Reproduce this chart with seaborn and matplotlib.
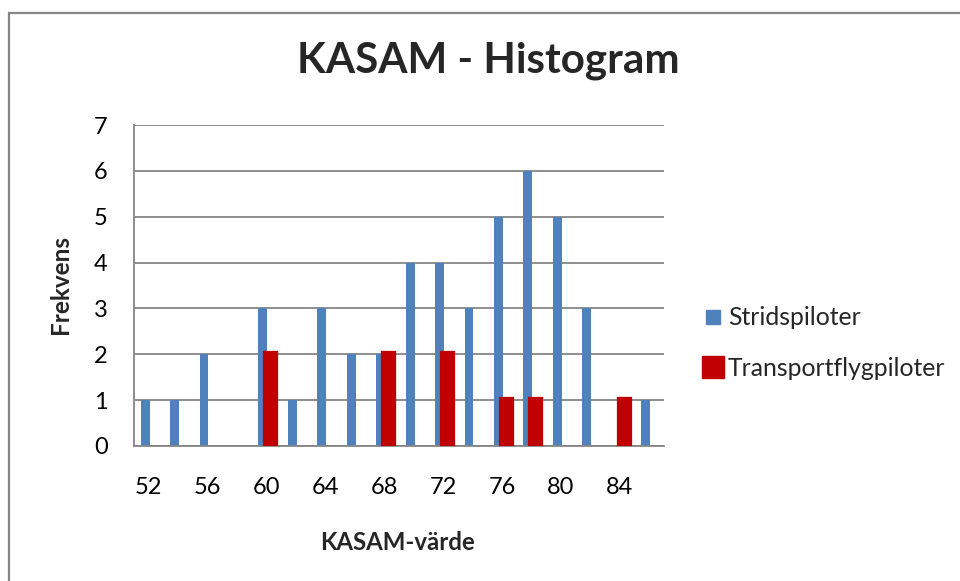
import numpy as np
import pandas as pd
import matplotlib
matplotlib.use("Agg")
import matplotlib.pyplot as plt
from matplotlib.lines import Line2D
from matplotlib.patches import Rectangle
import seaborn as sns

# ---- data ----
kasam = [52, 54, 56, 58, 60, 62, 64, 66, 68, 70, 72, 74, 76, 78, 80, 82, 84, 86]
strid = [1, 1, 2, 0, 3, 1, 3, 2, 2, 4, 4, 3, 5, 6, 5, 3, 0, 1]
transport_kasam = [60, 68, 72, 76, 78, 84]
transport = [2, 2, 2, 1, 1, 1]
series_names = ["Stridspiloter", "Transportflygpiloter"]
title = "KASAM - Histogram"
xlabel = "KASAM-värde"
ylabel = "Frekvens"

BLUE = "#4F81BD"
RED = "#C00000"
GRAY = "#868686"

sns.set_style("white")
plt.rcParams["font.family"] = ["Lato", "DejaVu Sans"]

fig = plt.figure(figsize=(9.6, 5.81), dpi=100)
W, H = 960, 581
L, R, T, B = 134, 664, 125, 446
ax = fig.add_axes([L / W, 1 - B / H, (R - L) / W, (B - T) / H])

cat_index = {k: i for i, k in enumerate(kasam)}
df_s = pd.DataFrame({"pos": np.arange(len(kasam)) - 0.122, "n": strid})
df_t = pd.DataFrame({"pos": np.array([cat_index[k] for k in transport_kasam]) + 0.146,
                     "n": transport})

sns.barplot(data=df_s, x="pos", y="n", native_scale=True, orient="x", width=0.30,
            color=BLUE, saturation=1, errorbar=None, linewidth=0, ax=ax, zorder=2)
sns.barplot(data=df_t, x="pos", y="n", native_scale=True, orient="x", width=0.30,
            color=RED, saturation=1, errorbar=None, linewidth=4.5, edgecolor=RED,
            ax=ax, zorder=3)

ax.set_xlim(-0.5, len(kasam) - 0.5)
ax.set_ylim(0, 7)
ax.set_axisbelow(True)

ax.set_yticks(range(0, 8))
ax.set_yticklabels([str(v) for v in range(0, 8)])
ax.yaxis.grid(True, color=GRAY, linewidth=1.3)
ax.xaxis.grid(False)

ax.set_xticks(np.arange(len(kasam))[::2])
ax.set_xticklabels([str(k) for k in kasam[::2]])
ax.set_xticks(np.arange(len(kasam) + 1) - 0.5, minor=True)

ax.tick_params(axis="x", which="major", length=0, pad=22, labelsize=17, labelcolor="black")
ax.tick_params(axis="x", which="minor", length=5.8, width=1.2, color=GRAY, direction="out")
ax.tick_params(axis="y", which="major", length=5, width=1.2, color=GRAY, direction="out",
               pad=14, labelsize=17, labelcolor="black")

for s in ["top", "right"]:
    ax.spines[s].set_visible(False)
for s in ["left", "bottom"]:
    ax.spines[s].set_color(GRAY)
    ax.spines[s].set_linewidth(1.3)

ax.set_xlabel("")
ax.set_ylabel("")

fig.text(488.5 / W, 1 - 73 / H, title, ha="center", va="baseline",
         fontsize=30.3, fontweight="bold")
fig.text(398 / W, 1 - 550 / H, xlabel, ha="center", va="baseline",
         fontsize=17.3, fontweight="bold")
fig.text(61 / W, 1 - 285 / H, ylabel, ha="center", va="center", rotation=90,
         fontsize=17.5, fontweight="bold")

handles = [
    Line2D([], [], marker="s", linestyle="none", markersize=10, color=BLUE),
    Line2D([], [], marker="s", linestyle="none", markersize=16, color=RED),
]
fig.legend(handles, series_names, loc="center left",
           bbox_to_anchor=(691 / W, 1 - 343 / H), frameon=False, fontsize=17.8,
           handlelength=0.75, handletextpad=0.25, labelspacing=1.1, borderpad=0)

fig.patches.append(Rectangle((9 / W, -0.05), 1.2, 1 - 13 / H + 0.05,
                             transform=fig.transFigure, fill=False,
                             edgecolor=GRAY, linewidth=1.6))

fig.savefig("out.png", dpi=100, facecolor="white")
